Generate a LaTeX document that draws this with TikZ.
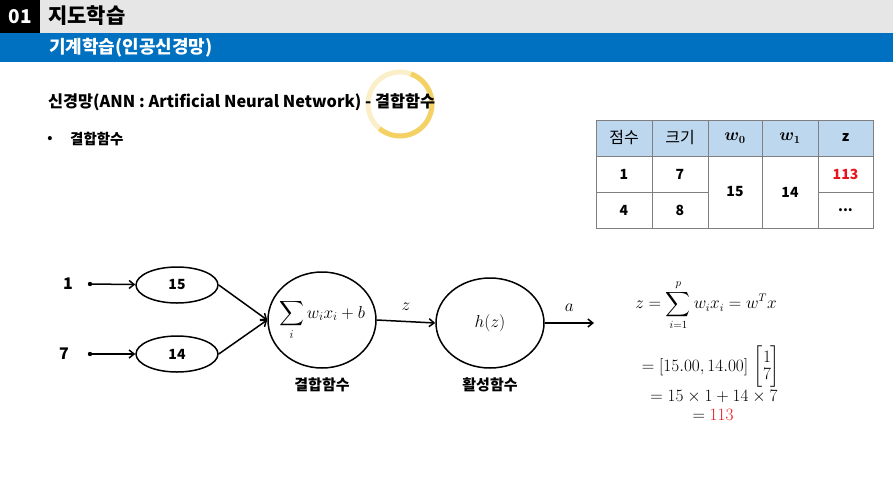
\documentclass[tikz,border=0pt]{standalone}
\usepackage[no-math]{fontspec}
\setmainfont{Noto Sans CJK KR}
\usepackage{amsmath}
\usetikzlibrary{arrows.meta,shapes.geometric}
\definecolor{hdrgray}{HTML}{E7E6E6}
\definecolor{hdrblue}{HTML}{0070C0}
\definecolor{tblblue}{HTML}{BDD7EE}
\definecolor{tblline}{HTML}{7F7F7F}
\definecolor{ring}{HTML}{F2C94C}
\definecolor{redtxt}{HTML}{E8141C}
\tikzset{
  cell/.style={draw=tblline, line width=0.8pt, minimum height=36pt, inner sep=0pt, font=\fontsize{14}{16}\selectfont\bfseries},
  hcell/.style={cell, fill=tblblue},
  ell/.style={ellipse, draw, line width=1.5pt, inner sep=0pt, font=\fontsize{14}{16}\selectfont\bfseries},
  conn/.style={line width=1.5pt, -{Straight Barb[length=5pt,width=8pt,line width=1.5pt]}},
  inlabel/.style={font=\fontsize{16}{18}\selectfont\bfseries},
  captxt/.style={font=\fontsize{15}{17}\selectfont\bfseries},
  mathlbl/.style={font=\fontsize{17}{20}\selectfont},
}
\begin{document}
\begin{tikzpicture}[x=1pt,y=-1pt]
\useasboundingbox (0,0) rectangle (893,485);
% header
\fill[hdrgray] (0,0) rectangle (893,33);
\fill[black] (0,0) rectangle (40,33);
\fill[hdrblue] (0,33) rectangle (893,62);
\node[text=white, font=\fontsize{19}{21}\selectfont\bfseries] (num) at (20,16.5) {01};
\node[anchor=west, font=\fontsize{21}{23}\selectfont\bfseries, inner sep=0pt] (chap) at (48,16) {지도학습};
\node[anchor=west, text=white, font=\fontsize{18}{20}\selectfont\bfseries, inner sep=0pt] (sec) at (49,47.5) {기계학습(인공신경망)};
% title
\draw[ring, line width=5pt, opacity=0.3] (400,104) circle (32);
\draw[ring, line width=5pt, opacity=0.8] (400,104) ++(-70:32) arc (-70:130:32);
\node[anchor=west, font=\fontsize{16.3}{18}\selectfont\bfseries, inner sep=0pt] (title) at (48,102) {신경망(ANN : Artificial Neural Network) - 결합함수};
\node[font=\fontsize{13}{15}\selectfont\bfseries, inner sep=0pt] (bul) at (50,139) {•};
\node[anchor=west, font=\fontsize{14.5}{16}\selectfont\bfseries, inner sep=0pt] (bultxt) at (70,139) {결합함수};
% table
\node[hcell, minimum width=56pt, font=\fontsize{16}{18}\selectfont] (h1) at (624,138) {점수};
\node[hcell, minimum width=56pt, font=\fontsize{16}{18}\selectfont] (h2) at (680,138) {크기};
\node[hcell, minimum width=54pt, font=\fontsize{16}{18}\selectfont] (h3) at (735,138) {$\boldsymbol{w_0}$};
\node[hcell, minimum width=56pt, font=\fontsize{16}{18}\selectfont] (h4) at (790,138) {$\boldsymbol{w_1}$};
\node[hcell, minimum width=55pt] (h5) at (845.5,138) {z};
\node[cell, minimum width=56pt] (c11) at (624,174) {1};
\node[cell, minimum width=56pt] (c12) at (680,174) {7};
\node[cell, minimum width=56pt] (c21) at (624,210) {4};
\node[cell, minimum width=56pt] (c22) at (680,210) {8};
\node[cell, minimum width=54pt, minimum height=72pt] (c3) at (735,192) {15};
\node[cell, minimum width=56pt, minimum height=72pt] (c4) at (790,192) {14};
\node[cell, minimum width=55pt, text=redtxt] (c15) at (845.5,174) {113};
\node[cell, minimum width=55pt] (c25) at (845.5,210) {...};
% network
\node[inlabel] (x1) at (68,284) {1};
\node[inlabel] (x2) at (64,354) {7};
\coordinate (d1) at (90,284);
\coordinate (d2) at (90,354);
\fill (d1) circle (2.2);
\fill (d2) circle (2.2);
\node[ell, minimum width=82pt, minimum height=36pt] (e1) at (177,285) {15};
\node[ell, minimum width=82pt, minimum height=36pt] (e2) at (177,354) {14};
\node[ellipse, draw, line width=1.5pt, minimum width=108pt, minimum height=96pt, inner sep=0pt, mathlbl] (s) at (322,320) {};
\node[mathlbl] (stxt) at (s.center) {$\displaystyle\sum_i w_i x_i + b$};
\node[ellipse, draw, line width=1.5pt, minimum width=108pt, minimum height=90pt, inner sep=0pt, mathlbl] (h) at (490,323) {$h(z)$};
\coordinate (out) at (594,323);
\draw[conn] (d1) -- (e1);
\draw[conn] (d2) -- (e2);
\draw[conn] (e1.east) -- (s.west);
\draw[conn] (e2.east) -- (s.west);
\draw[conn] (s.east) -- node[above=7pt, mathlbl] (zl) {$z$} (h.west);
\draw[conn] (h.east) -- node[above=7pt, mathlbl] (al) {$a$} (out);
\node[captxt] (scap) at (322,385) {결합함수};
\node[captxt] (hcap) at (490,385) {활성함수};
% formula
\node[font=\fontsize{16}{19}\selectfont] (f1) at (706,305) {$\displaystyle z=\sum_{i=1}^{p} w_i x_i = w^T x$};
\node[mathlbl, inner sep=0pt] (f2) at (711,367) {$=[15.00,14.00]\,\left[\begin{matrix}1\\[-3pt]7\end{matrix}\right]$};
\node[mathlbl, inner sep=0pt] (f3) at (714,397) {$=15\times 1+14\times 7$};
\node[mathlbl, inner sep=0pt] (f4) at (713,415) {$=\textcolor{redtxt}{113}$};
\end{tikzpicture}
\end{document}
